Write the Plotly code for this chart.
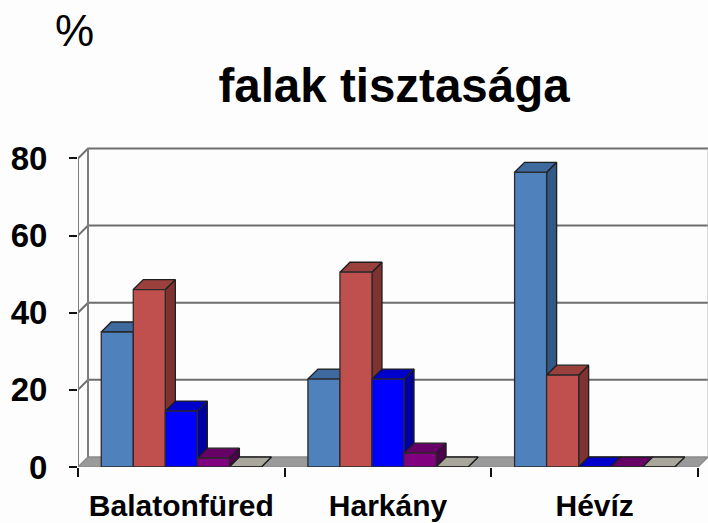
import plotly.graph_objects as go

categories = ["Balatonfüred", "Harkány", "Hévíz"]
series_1 = [35.0, 22.8, 76.4]
series_2 = [46.0, 50.5, 23.8]
series_3 = [14.5, 22.8, 0.0]
series_4 = [2.3, 3.6, 0.0]
series_5 = [0.0, 0.0, 0.0]
y_ticks = [0, 20, 40, 60, 80]
title_text = "falak tisztasága"
unit_text = "%"

all_series = [series_1, series_2, series_3, series_4, series_5]
front_colors = ["#4F81BD", "#C0504D", "#0000FF", "#800080", "#BDBBAE"]
top_colors = ["#3F6A9F", "#9A403D", "#0000CC", "#660066", "#A9A79B"]
side_colors = ["#325A88", "#7E3331", "#0000A0", "#4D004D", "#77766C"]

W, H = 708, 523
L, R, T, B = 77.5, 0, 142.5, 56
YMAX = 84.0
DX = 10 / 206.6      # depth of the 3D projection, x data units
DY = 10 / 3.8625     # depth of the 3D projection, y data units
XMIN, XMAX = -0.5, 2.5 + DX
WALL = "#7d7d7d"
BAR_W = 0.775 / 5

fig = go.Figure()


def poly(xs, ys, fill, line="#1e1e1e", width=1.3):
    fig.add_trace(go.Scatter(x=xs, y=ys, mode="lines", fill="toself", fillcolor=fill,
                             line=dict(color=line, width=width), hoverinfo="skip",
                             showlegend=False))


def line(xs, ys, color=WALL, width=2):
    fig.add_trace(go.Scatter(x=xs, y=ys, mode="lines", line=dict(color=color, width=width),
                             hoverinfo="skip", showlegend=False))


# floor
poly([XMIN, XMIN + DX, XMAX, XMAX - DX, XMIN], [0, DY, DY, 0, 0], "#9a9a9a", line="#8a8a8a")
# back wall grid and left wall
for t in y_ticks[1:]:
    line([XMIN, XMIN + DX, XMAX], [t, t + DY, t + DY], color="#6e6e6e")
line([XMIN, XMIN], [0, y_ticks[-1]])
line([XMIN + DX, XMIN + DX], [DY, y_ticks[-1] + DY])
line([XMAX, XMAX], [DY, y_ticks[-1] + DY], color="#b5b5b5", width=1)

# side and top faces, left to right so that later bars cover earlier ones
for c in range(len(categories)):
    for s, vals in enumerate(all_series):
        v = vals[c]
        x0 = c - 2.5 * BAR_W + s * BAR_W
        x1 = x0 + BAR_W
        poly([x1, x1 + DX, x1 + DX, x1, x1], [0, DY, v + DY, v, 0], side_colors[s])
        poly([x0, x0 + DX, x1 + DX, x1, x0], [v, v + DY, v + DY, v, v], top_colors[s])

# front faces on an overlay so they sit above the faces behind them
for s, vals in enumerate(all_series):
    fig.add_trace(go.Bar(x=list(range(len(categories))), y=vals, xaxis="x2", yaxis="y2",
                         marker=dict(color=front_colors[s], line=dict(color="#2a2a2a", width=1.3)),
                         showlegend=False))

fig.update_layout(
    width=W, height=H, margin=dict(l=L, r=R, t=T, b=B, pad=0),
    paper_bgcolor="#FDFDFD", plot_bgcolor="rgba(0,0,0,0)", showlegend=False,
    barmode="group", bargap=0.225, bargroupgap=0,
    font=dict(family="Liberation Sans", color="#000000"),
    title=dict(text=title_text, font=dict(size=47.5, family="Liberation Sans", color="#000000", weight="bold"),
               x=394 / W, xanchor="center", y=1 - 85 / H, yanchor="middle", xref="container", yref="container",
               automargin=False),
    annotations=[dict(text=unit_text, xref="paper", yref="paper", x=(74 - L) / (W - L),
                      y=(H - B - 30) / (H - T - B), xanchor="center", yanchor="middle", showarrow=False,
                      font=dict(size=44, family="Liberation Sans", color="#000000"))],
    xaxis=dict(range=[XMIN, XMAX], tickmode="array", tickvals=[0, 1, 2], ticktext=categories,
               automargin=False, ticks="outside", ticklen=12, tickcolor="rgba(0,0,0,0)", showgrid=False,
               zeroline=False, showline=False,
               tickfont=dict(size=30, family="Liberation Sans", weight="bold", color="#000000"),
               minor=dict(tickmode="array", tickvals=[-0.5, 0.5, 1.5, 2.5], ticks="outside", ticklen=9,
                          tickwidth=2, tickcolor="#111111", showgrid=False)),
    yaxis=dict(range=[0, YMAX], tickmode="array", tickvals=y_ticks, automargin=False, ticks="outside",
               ticklen=8, tickwidth=2, tickcolor="#111111", showgrid=False, zeroline=False, showline=False,
               ticklabelstandoff=15,
               tickfont=dict(size=33, family="Liberation Sans", weight="bold", color="#000000")),
    xaxis2=dict(range=[XMIN, XMAX], overlaying="x", visible=False),
    yaxis2=dict(range=[0, YMAX], overlaying="y", visible=False),
)

fig.write_html("out.html", config={"displayModeBar": False},
               post_script="document.body.style.margin='0';window.dispatchEvent(new Event('resize'));")
